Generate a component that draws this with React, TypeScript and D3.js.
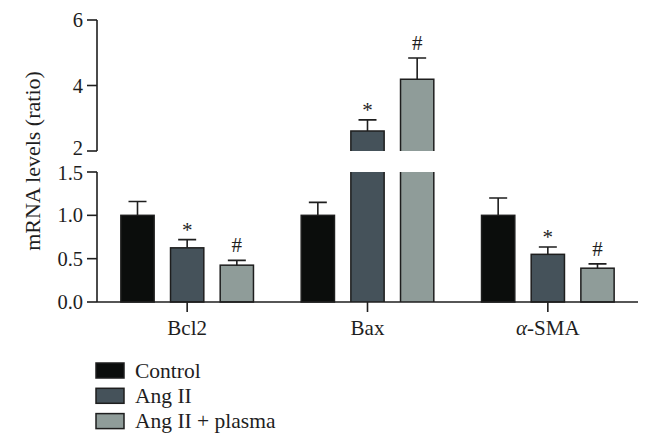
import React from "react";
import * as d3 from "d3";

const categories = ["Bcl2", "Bax", "α-SMA"];
const series = ["Control", "Ang II", "Ang II + plasma"];
const colors = ["#0b0d0c", "#45525a", "#8f9c99"];
const means = [
  [1.0, 0.625, 0.425],
  [1.0, 2.61, 4.19],
  [1.0, 0.55, 0.39],
];
const errs = [
  [0.16, 0.095, 0.055],
  [0.15, 0.34, 0.65],
  [0.2, 0.085, 0.05],
];
const marks = [
  ["", "*", "#"],
  ["", "*", "#"],
  ["", "*", "#"],
];
const lowTicks = [0, 0.5, 1.0, 1.5];
const highTicks = [2, 4, 6];

const W = 652;
const H = 447;
const FONT = "'Liberation Serif', 'Times New Roman', serif";

export default function App() {
  const axisX = 97;
  const yLow = d3.scaleLinear().domain([0, 1.5]).range([302, 172]);
  const yHigh = d3.scaleLinear().domain([2, 6]).range([151, 20]);
  const x = d3.scaleBand().domain(categories).range([axisX, 638]).paddingInner(0).paddingOuter(0);
  const xs = d3.scaleBand().domain(series).range([-74.5, 74.5]).paddingInner(0.33).paddingOuter(0.165);
  const bw = xs.bandwidth();
  const yVal = (v: number) => (v <= 1.5 ? yLow(v) : yHigh(v));
  const stroke = "#1e1e1e";

  return (
    <svg width={W} height={H} style={{ position: "absolute", left: 0, top: 0, background: "#fff" }}>
      {/* bars */}
      {categories.map((c, ci) => {
        const cx = x(c)! + x.bandwidth() / 2;
        return (
          <g key={c}>
            {series.map((s, si) => {
              const v = means[ci][si];
              const e = errs[ci][si];
              const x0 = cx + xs(s)!;
              const xm = x0 + bw / 2;
              const top = yVal(v);
              const et = yVal(v + e);
              const els: React.ReactNode[] = [];
              if (v <= 1.5) {
                els.push(
                  <rect key="r" x={x0} y={top} width={bw} height={yLow(0) - top} fill={colors[si]} stroke={stroke} strokeWidth={1.5} />
                );
              } else {
                const lt = yLow(1.5);
                const hb = yHigh(2);
                els.push(<rect key="l" x={x0} y={lt} width={bw} height={yLow(0) - lt} fill={colors[si]} />);
                els.push(<rect key="h" x={x0} y={top} width={bw} height={hb - top} fill={colors[si]} />);
                els.push(<path key="lo" d={`M${x0},${lt}V${yLow(0)}M${x0 + bw},${lt}V${yLow(0)}`} stroke={stroke} strokeWidth={1.5} fill="none" />);
                els.push(<path key="ho" d={`M${x0},${hb}V${top}H${x0 + bw}V${hb}`} stroke={stroke} strokeWidth={1.5} fill="none" />);
              }
              els.push(
                <path key="e" d={`M${xm},${top}V${et}M${xm - 9},${et}H${xm + 9}`} stroke={stroke} strokeWidth={1.6} fill="none" />
              );
              const m = marks[ci][si];
              if (m) {
                els.push(
                  <text key="m" x={xm} y={m === "*" ? et - 3 : et - 8} textAnchor="middle" fontFamily={FONT} fontSize={21} fill="#1e1e1e">
                    {m}
                  </text>
                );
              }
              return <g key={s}>{els}</g>;
            })}
          </g>
        );
      })}

      {/* y axis */}
      <g stroke={stroke} strokeWidth={1.6} fill="none">
        <path d={`M${axisX},${yHigh(6)}V${yHigh(2)}`} />
        <path d={`M${axisX},${yLow(1.5)}V${yLow(0)}`} />
        {highTicks.map((t) => (
          <path key={"h" + t} d={`M${axisX - 10},${yHigh(t)}H${axisX}`} />
        ))}
        {lowTicks.map((t) => (
          <path key={"l" + t} d={`M${axisX - 10},${yLow(t)}H${axisX}`} />
        ))}
        <path d={`M${axisX},${yLow(0)}H638`} />
        {categories.map((c) => {
          const cx = x(c)! + x.bandwidth() / 2;
          return <path key={c} d={`M${cx},${yLow(0)}V${yLow(0) + 10}`} />;
        })}
      </g>
      <g fontFamily={FONT} fontSize={20.5} fill="#1e1e1e" textAnchor="end">
        {highTicks.map((t) => (
          <text key={"h" + t} x={axisX - 14} y={yHigh(t) + (t === 2 ? 4 : 7)}>
            {d3.format("d")(t)}
          </text>
        ))}
        {lowTicks.map((t) => (
          <text key={"l" + t} x={axisX - 14} y={yLow(t) + (t === 1.5 ? 8 : 7)}>
            {d3.format(".1f")(t)}
          </text>
        ))}
      </g>
      <text
        transform={`translate(40,161) rotate(-90)`}
        textAnchor="middle"
        fontFamily={FONT}
        fontSize={22}
        fill="#1e1e1e"
      >
        mRNA levels (ratio)
      </text>

      {/* x labels */}
      <g fontFamily={FONT} fontSize={21} fill="#1e1e1e" textAnchor="middle">
        {categories.map((c) => {
          const cx = x(c)! + x.bandwidth() / 2;
          if (c === "α-SMA") {
            return (
              <text key={c} x={cx} y={335}>
                <tspan fontStyle="italic">α</tspan>-SMA
              </text>
            );
          }
          return (
            <text key={c} x={cx} y={335}>
              {c}
            </text>
          );
        })}
      </g>

      {/* legend */}
      <g fontFamily={FONT} fontSize={21.5} fill="#1e1e1e">
        {series.map((s, i) => (
          <g key={s} transform={`translate(96,${363 + i * 25.3})`}>
            <rect x={0} y={0} width={28} height={15} fill={colors[i]} stroke={stroke} strokeWidth={1.5} />
            <text x={39} y={14.5}>
              {s}
            </text>
          </g>
        ))}
      </g>
    </svg>
  );
}
